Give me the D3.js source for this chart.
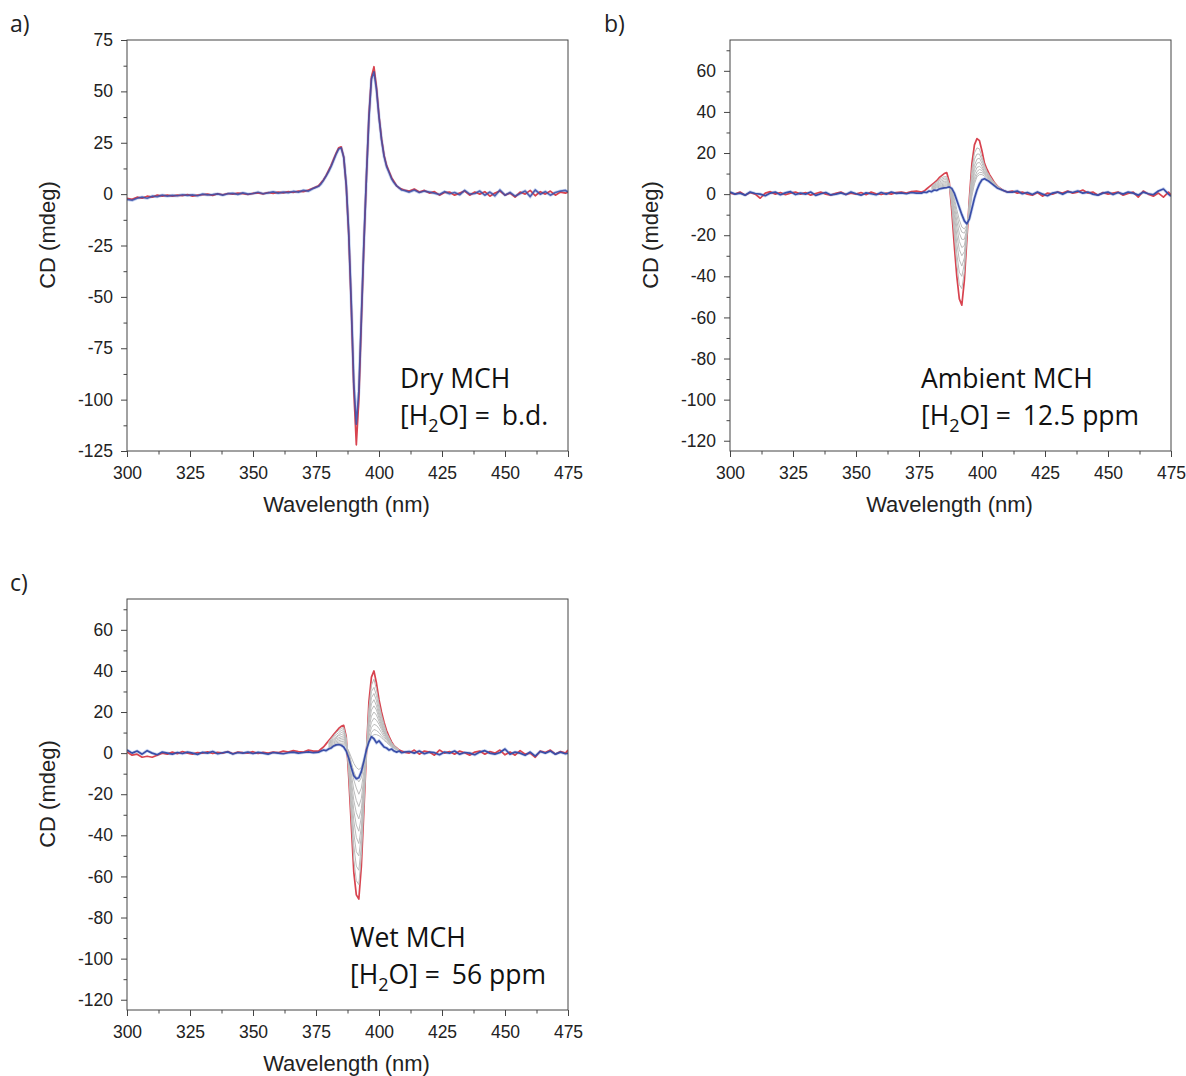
<!DOCTYPE html>
<html>
<head>
<meta charset="utf-8">
<script src="https://cdn.jsdelivr.net/npm/d3@7"></script>
<style>
body { margin: 0; background: #fff; }
.tick text { font-family: "Liberation Sans", Arial, sans-serif; font-size: 17.5px; fill: #222; }
.tick line { stroke: #444; }
.title { font-family: "Liberation Sans", Arial, sans-serif; font-size: 22px; fill: #222; }
.letter { font-family: "Open Sans", "Noto Sans", sans-serif; font-size: 23px; fill: #222; }
.note { font-family: "Open Sans", "Noto Sans", sans-serif; font-size: 26.5px; fill: #111; }
</style>
</head>
<body>
<script>
// wavelength grid (nm): 2 nm steps off-peak, 1 nm across the band
var wl = [
    300,302,304,306,308,310,312,314,316,318,320,322,324,326,328,330,332,334,336,338,340,342,344,346,348,350,352,354,356,358,360,362,364,366,368,370,372,374,
    376,377,378,379,380,381,382,383,384,385,386,387,388,389,390,391,392,393,394,395,396,397,398,399,400,401,402,403,404,405,406,407,408,409,410,
    412,414,416,418,420,422,424,426,428,430,432,434,436,438,440,442,444,446,448,450,452,454,456,458,460,462,464,466,468,470,472,474,475
];
// grid for the intermediate (grey) spectra
var wlGrey = [380,381,382,383,384,385,386,387,388,389,390,391,392,393,394,395,396,397,398,399,400,401,402,403,404,405,406,407,408];

var xTicks = [300, 325, 350, 375, 400, 425, 450, 475];
var xMinor = [312.5, 337.5, 362.5, 387.5, 412.5, 437.5, 462.5];
var yTicksA = [-125, -100, -75, -50, -25, 0, 25, 50, 75];
var yMinorA = [-112.5, -87.5, -62.5, -37.5, -12.5, 12.5, 37.5, 62.5];
var yTicksBC = [-120, -100, -80, -60, -40, -20, 0, 20, 40, 60];
var yMinorBC = [-110, -90, -70, -50, -30, -10, 10, 30, 50, 70];

// a) dry MCH
var dryRed = [
    -2,-2.5,-1.5,-2,-1,-1.5,-0.5,-1,-0.5,-1,-0.5,-0.8,-0.2,-1,-0.5,-0.3,0,-0.6,0.2,-0.3,0.3,0,0.5,0.2,-0.2,0.4,0.6,0.1,0.8,0.4,1,0.6,1.2,0.8,1.5,1.2,2,3,
    4,5.5,7,9,11.5,14,17,20,22.5,23,18,4,-20,-55,-95,-122,-100,-62,-25,8,38,57,62,52,38,27,19,14,11,8,6,4,3,2.5,2,
    1.5,2.5,1,1.8,0.5,1.2,-0.5,0.8,1,-0.5,0.5,1.5,-0.5,1,0,1.2,-1,0.5,1.5,-0.5,0.5,-1.5,1,0,1.8,-0.8,1.2,0,1.5,-0.5,1,0.5,1
];
var dryBlue = [
    -2.5,-3,-2,-1.5,-2,-1,-1.2,-0.5,-1,-0.6,-0.8,-0.3,-0.6,-0.4,-0.8,0,-0.4,-0.2,0.1,-0.5,0.2,0.4,-0.1,0.6,0,0.3,0.9,0.2,0.6,1.1,0.5,1,0.7,1.3,1,1.8,1.5,2.8,
    3.8,5,6.8,8.8,11,13.5,16.5,19.5,22,22.5,18,4.5,-19,-53,-92,-112,-96,-60,-24,8,37,56,59.5,51,37.5,26.5,18.5,13.5,10.5,7.5,5.5,4,3,2,1.8,
    1,2,0.8,1.5,1,0.5,-0.2,1.2,0.2,0.8,-0.3,1.8,0,0.3,1.5,-0.5,1,-0.8,2,-0.5,0.8,-1,0.3,1.5,-1.2,2,0,1.2,-0.5,0.8,1.5,1.8,1
];
var dryGreys = [];

// b) ambient MCH
var ambRed = [
    0.5,0,1,-0.5,0.8,0,-2,0.5,1.2,0,0.8,-0.3,0.5,1,0,0.8,-0.5,0.3,1,0,-0.5,0.4,1,-0.2,0.5,0,0.8,-0.3,1,0.2,-0.2,0.5,0,0.8,1,0.5,1.2,1.5,
    1,1.5,2.5,3.5,4.5,5.5,6.5,8,9,10,10.5,6,-8,-25,-40,-51,-54,-42,-22,-2,15,24,27,26,21,15,12,9.5,7.5,5.5,4,3,2,1.5,1,
    1.5,0.5,1,0,-0.5,0.8,-1,0.5,0,1,0.5,1.5,0.5,1,2,0.5,1,-0.5,0.8,0,0.5,1,-0.5,0.3,1,-1.5,1.5,0,-1,0.5,-1.5,1,-0.5
];
var ambBlue = [
    1,0,0.5,-0.5,1,0.3,0,-0.8,0.5,1,-0.3,0.6,1.2,-0.2,0.5,0,1,-0.6,0.2,0.8,-0.4,0,0.6,-0.2,1,0.2,-0.5,0.6,0.2,-0.3,0.8,0,1,0.4,0.6,0.2,0.8,0.5,
    0.5,1,0.8,1.5,1.2,2,1.8,2.5,2.8,3,3.2,3.5,2.8,0.5,-3,-6.5,-10,-13,-14.5,-12,-7,-2,2,5,7,7.5,6.8,6,5,4,3,2.5,2,1.5,1,
    1,1.5,0.2,0.8,-0.2,1,0,-0.8,0.5,1,0,1.2,0.8,1.5,0.5,1,0,-0.5,0.5,1,-0.2,0.8,0,1,0.5,-0.5,1,0.2,-0.3,1.5,2.5,0,-1
];
var ambGreys = [
    [4,5,6,7,8,8.5,8.5,5,-6,-20,-34,-44,-46,-38,-20,-3,12,20,22.5,22,18,14,11,9,7,5.5,4,3,2],
    [3.8,4.6,5.5,6.5,7.2,7.8,7.8,5,-4,-16,-29,-38,-40,-34,-19,-4,9,17,19.5,19.5,16.5,13,10.5,8.5,6.8,5.2,4,3,2],
    [3.5,4.2,5,5.8,6.5,7,7,5,-2,-13,-24,-32,-35,-31,-19,-5,7,14,17,17.5,15,12,10,8,6.5,5,3.8,3,2],
    [3.2,3.9,4.6,5.2,5.8,6.2,6.3,4.8,-1,-10,-20,-27,-30,-28,-18,-6,5,12,15,15.5,13.5,11,9.5,7.8,6.2,4.8,3.6,2.8,2],
    [3,3.6,4.2,4.7,5.2,5.5,5.6,4.5,0,-8,-16,-23,-26,-25,-18,-7,3.5,10,13,13.5,12.5,10.5,9,7.5,6,4.6,3.5,2.7,2],
    [2.8,3.2,3.8,4.2,4.6,4.9,5,4.2,1,-5.5,-13,-19,-22,-22,-17,-8,2,8,11,12,11.5,10,8.5,7,5.8,4.5,3.4,2.6,1.9],
    [2.5,2.9,3.4,3.8,4.1,4.3,4.5,4,1.5,-3.5,-10,-15.5,-18.5,-19,-16,-9,0.5,6.5,9.5,10.5,10.5,9.5,8,6.8,5.6,4.4,3.3,2.5,1.8],
    [2.2,2.6,3,3.3,3.6,3.8,4,3.8,2,-2,-7.5,-12.5,-16,-17,-15,-9.5,-1,5,8.5,9.5,9.5,8.8,7.5,6.5,5.4,4.2,3.2,2.4,1.7]
];

// c) wet MCH
var wetRed = [
    0.5,-1,-0.5,-2,-1.5,-2,-1,0,-0.5,0.5,-0.3,0.8,0,-0.5,0.3,0,0.6,-0.2,0.4,0,0.8,-0.3,0.5,0.2,0,0.7,-0.2,0.4,0,0.5,0.2,1,0.5,1.2,0.8,0.5,1.5,1,
    1,2,3,4.5,6,7.5,9,10.5,12,13,13.5,8,-12,-35,-58,-69,-71,-55,-28,0,25,37,40,34,26,20,15,11,8,5.5,3.5,2.5,1.5,1,0.5,
    0,1.5,-0.5,1,0.5,-1,1.5,0,0.8,-0.5,1,0.2,-1,0.5,1,-0.5,0.8,0,1.5,-0.8,0.5,-1,1.2,-0.5,0,-2,1,0.3,1.5,-0.5,0.8,0,1.5
];
var wetBlue = [
    1.5,0,1,-0.5,1.2,0,-0.8,0.5,0,-0.5,0.3,-0.2,0.5,0,-0.6,0.4,0,0.8,-0.3,0.2,0.6,-0.4,0.3,0,0.5,-0.2,0.4,0,-0.5,0.3,0,-0.3,0.2,0.5,0,0.3,0.6,0.2,
    0.5,1,1.5,1.2,2,2.5,3.5,4,4.2,3.8,3,1,-2.5,-7,-11,-12.5,-12,-9,-4,1.5,5.5,8,7,5,6,4.5,3,2.5,1.5,2,1,0.5,1,0.2,0.5,
    0.8,0,1,-0.3,0.5,0.2,-0.8,0.5,0,1,-0.5,0.3,0,-0.8,0.5,1.2,0,-0.5,0.3,2,-0.5,0.5,0,-1,0.5,-1.5,0.8,0,1,-0.5,0.5,-0.3,0
];
var wetGreys = [
    [5.5,7,8.5,10,11,12,12.5,7.5,-10,-31,-52,-62,-64,-50,-26,0,22,33,36,31,24,18.5,14,10,7.5,5,3.5,2.5,1.5],
    [5,6.5,8,9,10,11,11.5,7,-8,-27,-45,-55,-57,-45,-23,0,20,30,32,28,22,17,13,9.5,7,5,3.5,2.5,1.5],
    [4.5,6,7,8,9,10,10.5,6.5,-6,-23,-39,-48,-50,-40,-21,0,18,27,29,25.5,20,15.5,12,9,6.5,4.5,3.2,2.3,1.5],
    [4.2,5.5,6.5,7.5,8.5,9,9.5,6,-4.5,-19,-33,-41,-44,-36,-19,0,16,24,26,23,18.5,14.5,11,8.5,6,4.3,3,2.2,1.4],
    [4,5,6,7,7.5,8,8.5,5.5,-3,-16,-28,-35,-38,-31,-17,0,14,21,23,21,17,13.5,10.5,8,5.8,4.2,3,2.1,1.3],
    [3.6,4.5,5.5,6.2,6.8,7.2,7.5,5,-2,-13,-23,-29,-32,-27,-15,0,12,18,20,18.5,15.5,12.5,10,7.5,5.5,4,2.9,2,1.3],
    [3.3,4,5,5.6,6,6.4,6.6,4.5,-1,-10,-18,-23,-26,-22,-12,0,10,15,17,16,14,11.5,9,7,5.2,3.8,2.8,2,1.2],
    [3,3.6,4.4,5,5.3,5.6,5.8,4,0,-7,-13,-17,-20,-17,-9,0.5,8,12.5,14,13.5,12,10,8,6.5,5,3.6,2.7,1.9,1.2],
    [2.6,3.2,3.8,4.3,4.6,4.8,5,3.5,0.5,-4.5,-9,-12,-14,-12,-6,1,6,10,11.5,11,10,8.5,7,5.8,4.5,3.3,2.5,1.8,1.1],
    [2.3,2.8,3.3,3.7,4,4.2,4.3,3.2,1,-2,-5,-7,-8,-7,-3,1.5,5,8,9,9,8.5,7.5,6.2,5.2,4,3,2.3,1.6,1]
];

var width = 1186, height = 1076;
var plotW = 441, plotH = 411;
var red = '#d8434f', blue = '#3a4ea8', grey = '#bcbcbc', halo = '#a9bde8';

var svg = d3.select('body').append('svg').attr('width', width).attr('height', height);

function toPts(xs, ys) {
    return ys.map(function (v, i) { return [xs[i], v]; });
}

// plain hyphen for negatives, like the original
var fmt = d => String(d);

function drawPanel(p) {
    var x = d3.scaleLinear().domain([300, 475]).range([p.left, p.left + plotW]);
    var y = d3.scaleLinear().domain([-125, 75]).range([p.top + plotH, p.top]);
    var g = svg.append('g');

    var line = d3.line().x(d => x(d[0])).y(d => y(d[1]));

    // clip so nothing leaks past the frame
    var clipId = 'clip-' + p.letter;
    svg.append('clipPath').attr('id', clipId).append('rect')
        .attr('x', p.left).attr('y', p.top).attr('width', plotW).attr('height', plotH);
    var lines = g.append('g').attr('clip-path', 'url(#' + clipId + ')');

    lines.append('path').datum(toPts(wl, p.blue))
        .attr('fill', 'none').attr('stroke', halo).attr('stroke-width', 3.2).attr('opacity', 0.6)
        .attr('d', line);
    lines.append('path').datum(toPts(wl, p.red))
        .attr('fill', 'none').attr('stroke', red).attr('stroke-width', 1.7)
        .attr('stroke-linejoin', 'round').attr('d', line);
    lines.selectAll('.grey').data(p.greys).enter().append('path')
        .attr('class', 'grey')
        .attr('fill', 'none').attr('stroke', grey).attr('stroke-width', 1)
        .attr('d', d => line(toPts(wlGrey, d)));
    lines.append('path').datum(toPts(wl, p.blue))
        .attr('fill', 'none').attr('stroke', blue).attr('stroke-width', 1.7)
        .attr('stroke-linejoin', 'round').attr('opacity', p.blueOpacity).attr('d', line);

    // axes
    var bottom = p.top + plotH;
    g.append('g').attr('transform', 'translate(0,' + bottom + ')')
        .call(d3.axisBottom(x).tickValues(xTicks).tickSize(6).tickPadding(10).tickFormat(fmt))
        .call(a => a.select('.domain').remove());
    g.append('g').attr('transform', 'translate(0,' + bottom + ')')
        .call(d3.axisBottom(x).tickValues(xMinor).tickSize(3.5).tickFormat(''))
        .call(a => a.select('.domain').remove());
    g.append('g').attr('transform', 'translate(' + p.left + ',0)')
        .call(d3.axisLeft(y).tickValues(p.yTicks).tickSize(6).tickPadding(8).tickFormat(fmt))
        .call(a => a.select('.domain').remove());
    g.append('g').attr('transform', 'translate(' + p.left + ',0)')
        .call(d3.axisLeft(y).tickValues(p.yMinor).tickSize(3.5).tickFormat(''))
        .call(a => a.select('.domain').remove());

    g.append('rect').attr('x', p.left).attr('y', p.top)
        .attr('width', plotW).attr('height', plotH)
        .attr('fill', 'none').attr('stroke', '#444').attr('stroke-width', 1);

    // titles
    g.append('text').attr('class', 'title')
        .attr('transform', 'translate(' + (p.left - 80) + ',' + (p.top + 195) + ') rotate(-90)')
        .attr('text-anchor', 'middle').attr('dy', '0.35em')
        .text('CD (mdeg)');
    g.append('text').attr('class', 'title')
        .attr('x', p.left + plotW / 2 - 1).attr('y', p.top + 472)
        .attr('text-anchor', 'middle')
        .text('Wavelength (nm)');
    g.append('text').attr('class', 'letter')
        .attr('x', p.letterX).attr('y', p.top - 8)
        .text(p.letter + ')');

    // annotation
    var nx = p.left + p.noteDx;
    g.append('text').attr('class', 'note')
        .attr('x', nx).attr('y', p.top + 348)
        .text(p.name);
    var t = g.append('text').attr('class', 'note')
        .attr('x', nx).attr('y', p.top + 385);
    t.append('tspan').text('[H');
    t.append('tspan').attr('dy', 7).attr('font-size', 18).text('2');
    t.append('tspan').attr('dy', -7).text('O] =');
    t.append('tspan').attr('dx', 12).text(p.water);
}

drawPanel({ letter: 'a', letterX: 10, left: 127, top: 40, yTicks: yTicksA, yMinor: yMinorA,
    red: dryRed, blue: dryBlue, greys: dryGreys, blueOpacity: 0.85,
    name: 'Dry MCH', water: 'b.d.', noteDx: 273 });
drawPanel({ letter: 'b', letterX: 604, left: 730, top: 40, yTicks: yTicksBC, yMinor: yMinorBC,
    red: ambRed, blue: ambBlue, greys: ambGreys, blueOpacity: 1,
    name: 'Ambient MCH', water: '12.5 ppm', noteDx: 191 });
drawPanel({ letter: 'c', letterX: 10, left: 127, top: 599, yTicks: yTicksBC, yMinor: yMinorBC,
    red: wetRed, blue: wetBlue, greys: wetGreys, blueOpacity: 1,
    name: 'Wet MCH', water: '56 ppm', noteDx: 223 });
</script>
</body>
</html>
